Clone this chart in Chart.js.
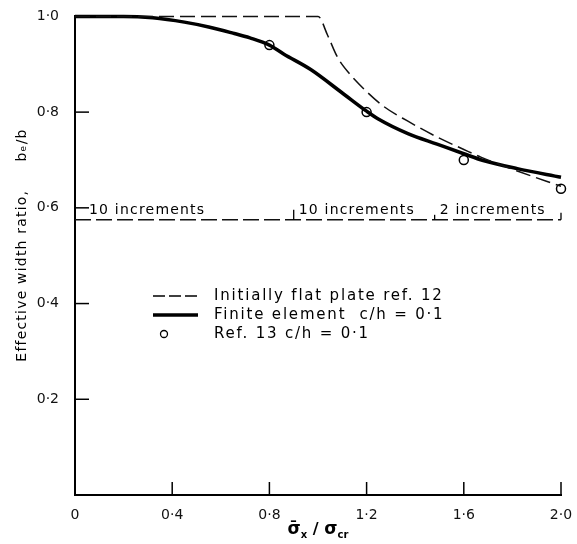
<!DOCTYPE html>
<html>
<head>
<meta charset="utf-8">
<script src="https://cdn.jsdelivr.net/npm/chart.js@4/dist/chart.umd.min.js"></script>
<style>
  html, body { margin: 0; padding: 0; background: #fff; }
  #wrap { width: 577px; height: 544px; }
</style>
</head>
<body>
<div id="wrap"><canvas id="c" width="577" height="544"></canvas></div>
<script>
// ---- data ----
const flatPlateX = [0, 0.5, 1.0, 1.04, 1.08, 1.13, 1.2, 1.27, 1.37, 1.49, 1.6, 1.67, 1.82, 2.0];
const flatPlateY = [1.0, 1.0, 1.0, 0.96, 0.915, 0.88, 0.843, 0.812, 0.781, 0.748, 0.722, 0.706, 0.677, 0.645];

const finiteX = [0, 0.2, 0.32, 0.45, 0.55, 0.65, 0.72, 0.8, 0.86, 0.97, 1.1, 1.2, 1.25, 1.37, 1.49, 1.6, 1.68, 1.82, 2.0];
const finiteY = [1.0, 1.0, 0.997, 0.988, 0.978, 0.965, 0.955, 0.94, 0.921, 0.889, 0.84, 0.802, 0.785, 0.755, 0.733, 0.713, 0.699, 0.682, 0.664];

const ref13X = [0.8, 1.2, 1.6, 2.0];
const ref13Y = [0.94, 0.80, 0.70, 0.64];

const incrementLevel = 0.575;
const incrementBounds = [0, 0.9, 1.48, 2.0];
const incrementLabels = ['10 increments', '10 increments', '2 increments'];

const xTickValues = [0, 0.4, 0.8, 1.2, 1.6, 2.0];
const xTickLabels = ['0', '0·4', '0·8', '1·2', '1·6', '2·0'];
const yTickValues = [0, 0.2, 0.4, 0.6, 0.8, 1.0];
const yTickLabels = ['', '0·2', '0·4', '0·6', '0·8', '1·0'];

const legendLabels = ['Initially flat plate ref. 12', 'Finite element  c/h = 0·1', 'Ref. 13 c/h = 0·1'];
const yTitle = 'Effective width ratio,     bₑ/b';
const FONT = '"DejaVu Sans", sans-serif';

const toPts = (xs, ys) => xs.map((x, i) => ({x: x, y: ys[i]}));

const annot = {
  id: 'annot',
  afterDraw(chart) {
    const ctx = chart.ctx;
    const xs = chart.scales.x, ys = chart.scales.y;
    const area = chart.chartArea;
    ctx.save();
    ctx.strokeStyle = '#000';
    ctx.fillStyle = '#000';
    // inward tick marks
    ctx.lineWidth = 1.5;
    yTickValues.forEach(v => {
      if (v === 0 || v === 1) return;
      const py = ys.getPixelForValue(v);
      ctx.beginPath(); ctx.moveTo(area.left, py); ctx.lineTo(area.left + 14, py); ctx.stroke();
    });
    xTickValues.forEach(v => {
      if (v === 0) return;
      const px = xs.getPixelForValue(v);
      ctx.beginPath(); ctx.moveTo(px, area.bottom); ctx.lineTo(px, area.bottom - 13); ctx.stroke();
    });
    // increments brackets & labels
    const ly = ys.getPixelForValue(incrementLevel);
    ctx.font = '14px ' + FONT;
    try { ctx.letterSpacing = '1.2px'; } catch (e) {}
    ctx.textBaseline = 'alphabetic';
    ctx.textAlign = 'left';
    incrementLabels.forEach((lab, i) => {
      const x0 = xs.getPixelForValue(incrementBounds[i]);
      ctx.fillText(lab, x0 + (i === 0 ? 14 : 5), ly - 6);
    });
    ctx.lineWidth = 1.3;
    incrementBounds.forEach((b, i) => {
      if (i === 0) return;
      const px = xs.getPixelForValue(b);
      const h = (i === incrementBounds.length - 1) ? 7 : (i === 1 ? 10 : 5);
      ctx.beginPath(); ctx.moveTo(px, ly); ctx.lineTo(px, ly - h); ctx.stroke();
    });
    // legend
    const lx0 = 153, lx1 = 198, tx = 214;
    const rows = [296, 315, 334];
    ctx.lineWidth = 1.5;
    ctx.setLineDash([12, 4]);
    ctx.beginPath(); ctx.moveTo(lx0, rows[0]); ctx.lineTo(lx1, rows[0]); ctx.stroke();
    ctx.setLineDash([]);
    ctx.lineWidth = 3.5;
    ctx.beginPath(); ctx.moveTo(lx0, rows[1]); ctx.lineTo(lx1, rows[1]); ctx.stroke();
    ctx.lineWidth = 1.3;
    ctx.fillStyle = '#fff';
    ctx.beginPath(); ctx.arc(164, rows[2], 3.5, 0, Math.PI * 2); ctx.fill(); ctx.stroke();
    ctx.fillStyle = '#000';
    ctx.textBaseline = 'middle';
    ctx.font = '15px ' + FONT;
    try { ctx.letterSpacing = '1.8px'; } catch (e) {}
    legendLabels.forEach((lab, i) => ctx.fillText(lab, tx, rows[i]));
    // y title
    ctx.save();
    ctx.translate(22, 245);
    ctx.rotate(-Math.PI / 2);
    ctx.textAlign = 'center';
    ctx.textBaseline = 'middle';
    ctx.font = '14px ' + FONT;
    try { ctx.letterSpacing = '1.2px'; } catch (e) {}
    ctx.fillText(yTitle, 0, 0);
    ctx.restore();
    // x title with subscripts
    try { ctx.letterSpacing = '0px'; } catch (e) {}
    const parts = [
      {t: 'σ̄', f: 'bold 17px ' + FONT, dy: 0},
      {t: 'x', f: 'bold 10px ' + FONT, dy: 4},
      {t: ' / ', f: 'bold 16px ' + FONT, dy: 0},
      {t: 'σ', f: 'bold 17px ' + FONT, dy: 0},
      {t: 'cr', f: 'bold 10px ' + FONT, dy: 4}
    ];
    let total = 0;
    parts.forEach(p => { ctx.font = p.f; p.w = ctx.measureText(p.t).width; total += p.w; });
    let cx = (area.left + area.right) / 2 - total / 2;
    const by = 534;
    ctx.textAlign = 'left';
    ctx.textBaseline = 'alphabetic';
    parts.forEach(p => { ctx.font = p.f; ctx.fillText(p.t, cx, by + p.dy); cx += p.w; });
    ctx.restore();
  }
};

new Chart(document.getElementById('c'), {
  type: 'line',
  data: {
    datasets: [
      {
        label: legendLabels[0],
        data: toPts(flatPlateX, flatPlateY),
        borderColor: '#111', borderWidth: 1.5, borderDash: [15, 6],
        pointRadius: 0, cubicInterpolationMode: 'monotone', fill: false
      },
      {
        label: legendLabels[1],
        data: toPts(finiteX, finiteY),
        borderColor: '#000', borderWidth: 3.5,
        pointRadius: 0, cubicInterpolationMode: 'monotone', fill: false
      },
      {
        label: 'increments',
        data: [{x: incrementBounds[0], y: incrementLevel}, {x: incrementBounds[incrementBounds.length - 1], y: incrementLevel}],
        borderColor: '#111', borderWidth: 1.5, borderDash: [16, 5],
        pointRadius: 0, fill: false
      },
      {
        label: legendLabels[2],
        data: toPts(ref13X, ref13Y),
        showLine: false,
        pointStyle: 'circle', pointRadius: 4.5,
        pointBackgroundColor: '#fff', pointBorderColor: '#000', pointBorderWidth: 1.5
      }
    ]
  },
  options: {
    responsive: false,
    animation: false,
    clip: false,
    layout: { padding: { top: 15, right: 16, left: 0, bottom: 0 } },
    plugins: { legend: { display: false }, tooltip: { enabled: false } },
    scales: {
      x: {
        type: 'linear', min: 0, max: 2.0,
        afterBuildTicks: s => { s.ticks = xTickValues.map(v => ({value: v})); },
        afterFit: s => { s.height = 49; },
        grid: { display: false },
        border: { display: true, color: '#000', width: 2 },
        ticks: {
          color: '#111', font: { family: FONT, size: 14 }, padding: 4, maxRotation: 0,
          callback: (v) => { const i = xTickValues.findIndex(t => Math.abs(t - v) < 1e-9); return i >= 0 ? xTickLabels[i] : ''; }
        }
      },
      y: {
        type: 'linear', min: 0, max: 1.0,
        afterBuildTicks: s => { s.ticks = yTickValues.map(v => ({value: v})); },
        afterFit: s => { s.width = 75; },
        grid: { display: false },
        border: { display: true, color: '#000', width: 2 },
        ticks: {
          color: '#111', font: { family: FONT, size: 14 }, padding: 8,
          callback: (v) => { const i = yTickValues.findIndex(t => Math.abs(t - v) < 1e-9); return i >= 0 ? yTickLabels[i] : ''; }
        }
      }
    }
  },
  plugins: [annot]
});
</script>
</body>
</html>
